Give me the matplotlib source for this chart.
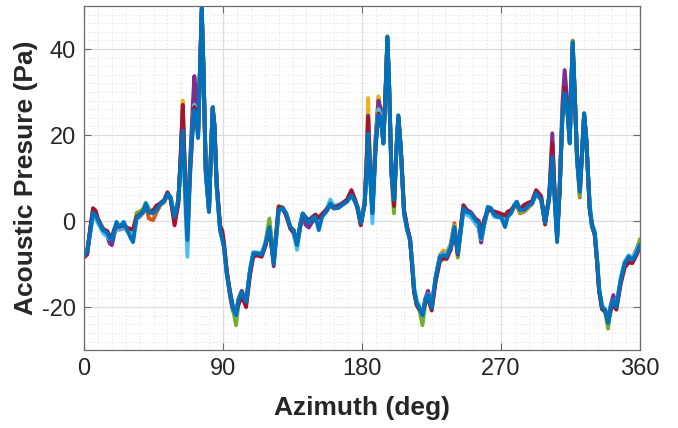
import matplotlib
matplotlib.use('Agg')
import matplotlib.pyplot as plt
from matplotlib.ticker import MultipleLocator

plt.rcParams['font.family'] = ['Liberation Sans', 'DejaVu Sans']
plt.rcParams['axes.unicode_minus'] = False

# ── Data (deg, Pa) ──
azimuth = [
    0.0, 2.0, 4.0, 5.8, 7.5, 9.0, 12.3, 15.0, 16.6, 18.0, 19.5, 21.0, 23.0, 25.7, 28.0, 30.0, 31.7,
    34.0, 36.0, 38.2, 40.0, 42.0, 44.7, 46.8, 49.6, 51.8, 54.0, 56.0, 58.6, 61.0, 62.5, 63.9, 65.4,
    66.9, 68.6, 70.4, 71.4, 73.0, 73.8, 75.1, 76.2, 77.3, 78.8, 80.9, 82.2, 83.3, 84.4, 85.9, 88.1,
    89.6, 90.6, 92.4, 94.5, 96.3, 98.4, 99.9, 102.1, 104.9, 107.5, 109.6, 112.2, 115.0, 117.3, 120.0,
    122.8, 124.5, 126.0, 128.6, 130.8, 133.6, 135.8, 137.9, 140.1, 141.6, 143.3, 145.5, 147.6, 149.8,
    152.0, 154.1, 156.7, 159.5, 161.7, 164.5, 167.0, 170.3, 173.1, 175.5, 177.0, 179.2, 181.7, 183.0,
    183.9, 185.3, 186.7, 188.8, 190.6, 192.1, 193.8, 195.4, 196.4, 197.5, 199.0, 200.7, 202.2, 203.5,
    205.1, 207.2, 209.3, 211.1, 212.6, 213.7, 215.4, 216.9, 219.1, 221.2, 222.7, 225.1, 227.7, 230.5,
    232.6, 234.8, 237.5, 239.8,
    242.0, 243.7, 245.6, 247.8, 250.6, 253.4, 255.6, 257.1, 259.2, 261.4, 263.5, 265.7, 267.9, 270.0,
    272.6, 274.3, 276.5, 278.6, 280.2, 282.3, 285.1, 288.0, 290.1, 292.7, 296.0, 298.5, 301.1, 303.2,
    304.8, 306.3, 308.0, 309.7, 311.2, 312.9, 314.5, 315.5, 316.4, 317.7, 319.2, 321.0, 322.5, 323.8,
    325.2, 327.4, 328.9, 330.7, 332.2, 333.5, 335.4, 337.5, 339.3, 341.0, 342.7, 344.7, 347.5, 350.1,
    352.7, 355.0, 357.6, 360.0,
]

p_blue = [
    -7.9, -7.3, -2.5, 1.9, 1.3, 0.2, -2.1, -2.8, -4.0, -4.4, -2.2, -0.2, -1.4, -0.2, -2.1, -3.8, -4.9,
    0.6, 1.4, 2.1, 4.0, 2.1, 1.8, 2.6, 4.0, 4.5, 6.3, 5.5, 1.0, 4.9, 13.0, 21.0, 8.0,
    -4.4, 12.6, 22.8, 25.8, 23.5, 19.3, 35.8, 49.5, 35.8, 11.2, 2.1, 16.5, 26.5, 21.9, 7.9, -2.1,
    -4.4, -6.0, -12.2, -16.8, -20.0, -21.9, -18.4, -16.5, -18.8, -11.4, -7.5, -7.5, -7.8, -5.5, -1.4,
    -9.8, -3.0, 2.6, 3.0, 1.8, -1.4, -2.1, -5.6, -0.5, 1.8, 1.0, -0.5, 0.6, 1.0,
    -2.1, 1.0, 2.1, 4.1, 3.0, 3.0, 3.7, 4.5, 6.0, 4.5, 3.3, -0.5, 4.1, 12.0,
    20.4, 10.0, 1.8, 18.0, 24.6, 24.2, 18.0, 32.0, 42.8, 32.0, 11.1, 4.9, 16.5, 24.6,
    16.5, 1.8, -2.1, -4.4, -10.6, -16.0, -19.1, -20.0, -21.9, -17.9, -17.2, -20.2, -13.0, -8.3,
    -7.9, -8.3, -6.0, -1.4,
    -7.5, -2.8, 3.0, 2.1, 1.8, 0.2, -0.5, -4.0, -0.5, 3.3, 3.0, 1.4, 1.0, 1.0,
    -1.4, 1.0, 1.8, 3.7, 4.5, 2.6, 2.6, 3.7, 4.1, 6.5, 4.9, -0.3, 5.6, 14.9,
    4.9, -4.9, 7.9, 24.2, 29.8, 25.8, 18.1, 32.0, 41.6, 29.8, 14.2, 6.8, 16.5, 25.1,
    18.8, 3.3, -1.4, -2.8, -9.1, -16.0, -20.0, -20.7, -23.7, -20.0, -18.4, -20.0, -13.7, -9.8,
    -8.3, -9.1, -7.5, -5.5,
]

p_red = [
    -8.3, -7.8, -1.5, 3.0, 2.4, 0.6, -2.0, -2.3, -3.4, -4.0, -2.0, -1.2, -1.3, -1.0, -1.6, -1.8, -1.9,
    1.0, 1.5, 2.2, 3.6, 2.0, 2.4, 3.6, 4.1, 4.8, 6.7, 5.2, -1.0, 4.0, 15.0, 27.0, 10.0,
    -3.2, 11.0, 22.0, 26.5, 24.5, 20.0, 35.5, 48.5, 35.0, 12.0, 3.0, 16.0, 26.0, 22.5, 8.8, -1.0,
    -2.4, -5.0, -11.5, -16.5, -20.0, -21.5, -19.5, -17.5, -20.0, -12.5, -8.2, -8.0, -8.3, -6.0, -2.0,
    -9.5, -2.5, 3.3, 3.0, 1.3, -1.8, -2.6, -5.2, -1.0, 1.2, 0.8, 0.2, 0.8, 1.5,
    0.8, 1.6, 2.6, 3.8, 3.2, 3.5, 4.0, 5.0, 7.2, 5.0, 3.0, -1.0, 4.0, 14.0,
    24.0, 11.0, 2.5, 17.0, 25.0, 24.0, 18.5, 31.5, 42.0, 31.5, 12.0, 3.5, 16.0, 24.2,
    17.0, 2.5, -1.5, -4.2, -11.2, -16.6, -19.6, -20.4, -21.5, -18.6, -18.0, -20.8, -14.0, -9.2,
    -8.5, -8.8, -6.6, -2.0,
    -7.8, -2.2, 3.7, 2.6, 2.0, 0.6, 0.0, -2.8, 0.5, 2.5, 2.6, 2.2, 2.0, 1.7,
    1.3, 2.2, 2.5, 3.6, 3.8, 2.8, 3.8, 4.3, 4.6, 7.2, 5.8, -0.8, 5.2, 18.0,
    6.0, -3.5, 7.0, 24.0, 31.0, 26.5, 19.0, 31.5, 40.5, 29.5, 15.5, 7.5, 16.0, 24.5,
    19.2, 2.7, -0.8, -3.4, -9.8, -16.2, -20.5, -21.0, -23.3, -20.8, -19.2, -20.6, -14.6, -10.8,
    -9.6, -9.8, -8.0, -6.0,
]

p_lightblue = [
    -7.0, -7.6, -3.0, 1.2, 0.6, -0.5, -2.8, -3.6, -4.2, -4.0, -2.9, -1.0, -1.9, -1.2, -2.4, -3.0, -3.2,
    0.8, 1.2, 2.0, 4.2, 2.6, 2.0, 2.8, 4.4, 4.9, 6.5, 5.7, 0.5, 4.2, 12.0, 20.0, 5.0,
    -8.3, 10.0, 21.5, 27.0, 24.0, 19.5, 35.0, 48.0, 34.5, 11.5, 2.5, 16.5, 25.5, 21.0, 7.5, -2.5,
    -4.2, -6.2, -12.5, -16.2, -19.5, -22.0, -18.5, -16.8, -19.0, -11.0, -7.2, -7.3, -7.5, -5.3, -1.8,
    -9.6, -3.5, 2.4, 2.8, 2.0, -1.6, -3.2, -6.7, -1.2, 1.4, 0.8, -0.3, 0.9, 1.5,
    -0.5, 1.4, 2.5, 5.0, 3.6, 3.8, 4.2, 5.0, 6.5, 4.8, 3.2, -0.6, 3.8, 12.5,
    23.0, 10.0, -0.5, 17.5, 26.0, 24.5, 18.0, 31.5, 42.0, 31.5, 11.5, 4.5, 16.2, 24.2,
    16.5, 1.6, -2.3, -4.0, -10.0, -15.2, -18.5, -19.6, -22.0, -17.8, -17.0, -19.8, -12.8, -8.0,
    -7.6, -7.8, -5.6, -1.6,
    -7.2, -3.2, 2.4, 1.5, 0.8, -0.6, -1.4, -4.2, -0.8, 2.8, 2.6, 1.0, 0.8, 0.8,
    -0.4, 1.3, 2.0, 3.8, 4.4, 2.6, 2.8, 3.6, 4.4, 6.2, 5.0, -0.5, 5.4, 14.5,
    4.0, -3.8, 8.0, 24.5, 30.0, 26.0, 18.0, 31.0, 40.5, 29.0, 14.5, 7.0, 16.2, 24.8,
    18.6, 4.0, -0.6, -2.2, -8.6, -15.4, -19.6, -20.5, -23.5, -20.0, -18.4, -19.6, -13.2, -9.4,
    -8.0, -8.4, -7.0, -5.5,
]

p_green = [
    -8.5, -7.6, -2.2, 2.0, 1.6, 0.2, -1.6, -2.6, -3.8, -4.2, -2.0, -0.8, -1.2, -0.8, -1.7, -2.6, -2.9,
    1.9, 2.2, 2.8, 4.3, 2.8, 2.3, 3.2, 4.0, 4.6, 6.2, 5.0, 0.6, 4.8, 13.5, 24.0, 8.0,
    -4.5, 12.5, 23.0, 27.0, 24.0, 19.5, 36.5, 50.0, 36.5, 11.0, 2.2, 16.8, 26.5, 22.0, 8.0, -2.0,
    -4.3, -6.0, -12.0, -16.8, -20.3, -24.2, -19.5, -17.0, -19.2, -11.6, -7.8, -7.8, -7.7, -5.2, 0.6,
    -8.8, -2.5, 3.5, 3.2, 1.8, -1.4, -2.3, -5.4, -0.6, 1.6, 0.9, 0.0, 1.0, 1.3,
    0.5, 1.6, 2.5, 4.0, 3.2, 3.2, 3.8, 4.6, 6.2, 4.6, 3.4, -0.3, 4.2, 13.0,
    22.0, 10.5, 2.0, 18.5, 26.0, 24.5, 18.2, 32.5, 43.0, 32.5, 10.5, 1.8, 16.0, 24.5,
    16.5, 1.9, -2.0, -4.5, -10.8, -16.2, -19.3, -20.2, -24.2, -18.6, -17.6, -20.0, -13.4, -9.0,
    -9.0, -8.5, -6.0, -1.2,
    -8.5, -3.0, 2.8, 1.8, 1.5, 0.0, -0.8, -3.6, 0.0, 2.8, 2.6, 1.6, 1.2, 1.2,
    0.0, 1.6, 2.6, 3.4, 3.8, 2.0, 2.6, 3.6, 4.2, 6.6, 5.1, -0.2, 5.5, 15.5,
    5.0, -3.8, 8.0, 24.5, 30.5, 26.0, 18.5, 32.5, 42.0, 30.5, 14.8, 5.8, 16.0, 25.0,
    18.8, 3.2, -1.2, -2.9, -9.2, -16.2, -20.2, -21.4, -25.0, -20.4, -18.6, -19.8, -14.0, -10.2,
    -9.0, -8.8, -7.2, -4.2,
]

p_purple = [
    -7.6, -7.0, -2.0, 2.4, 1.5, -0.2, -2.5, -3.4, -5.2, -5.6, -3.2, -1.6, -2.0, -1.5, -2.3, -2.8, -3.0,
    0.6, 1.0, 1.9, 3.8, 2.4, 1.8, 3.0, 4.2, 4.6, 6.4, 5.4, 0.0, 4.5, 14.0, 26.0, 10.0,
    -4.0, 13.5, 27.0, 33.7, 28.0, 21.0, 35.5, 48.5, 35.5, 13.0, 3.5, 16.2, 26.0, 22.5, 8.5, -1.5,
    -3.5, -5.8, -11.8, -17.5, -20.8, -21.8, -18.2, -16.2, -18.5, -11.6, -7.8, -7.6, -7.9, -5.6, -1.6,
    -10.5, -3.5, 2.5, 2.8, 1.5, -1.6, -2.4, -5.5, -0.8, 1.5, -0.8, -1.5, -0.3, 0.5,
    0.2, 1.5, 2.2, 3.7, 3.0, 3.4, 3.9, 4.8, 6.8, 4.6, 3.0, -0.8, 4.0, 13.5,
    24.5, 11.0, 2.3, 19.5, 28.0, 26.0, 19.0, 31.5, 42.0, 31.5, 12.2, 4.0, 16.2, 24.0,
    17.0, 2.4, -1.8, -4.3, -11.0, -16.4, -19.4, -20.5, -21.8, -17.8, -16.2, -19.6, -13.2, -8.0,
    -7.5, -7.8, -5.7, -1.5,
    -7.6, -2.6, 3.0, 2.0, 1.6, -0.4, -1.6, -5.0, -0.6, 2.6, 2.4, 1.3, 1.1, 1.0,
    -0.2, 1.5, 2.0, 3.5, 3.6, 2.2, 3.0, 3.8, 4.4, 6.8, 5.2, -0.4, 5.2, 20.4,
    6.0, -3.6, 8.5, 27.0, 35.1, 28.0, 19.0, 31.5, 40.5, 29.5, 15.0, 7.2, 16.4, 24.6,
    19.0, 3.0, -1.0, -3.2, -9.4, -16.0, -20.3, -20.9, -23.4, -19.6, -17.2, -19.4, -13.8, -9.8,
    -8.4, -8.8, -7.4, -5.6,
]

p_yellow = [
    -7.8, -7.4, -2.3, 2.2, 1.5, 0.4, -1.8, -2.5, -3.6, -4.2, -2.1, -1.0, -1.3, -1.0, -1.8, -2.5, -2.8,
    1.2, 1.6, 2.4, 3.9, 2.2, 1.6, 2.7, 3.8, 4.4, 6.2, 5.3, 0.8, 4.7, 14.5, 28.0, 9.0,
    -4.2, 12.0, 23.5, 28.0, 24.5, 19.8, 35.5, 49.0, 35.5, 11.8, 2.6, 16.4, 26.3, 22.0, 8.2, -1.8,
    -4.0, -6.0, -12.2, -16.8, -20.0, -22.3, -18.8, -16.8, -19.0, -11.5, -7.6, -7.6, -7.7, -5.4, -1.0,
    -9.0, -3.0, 2.8, 2.9, 1.7, -1.5, -2.2, -5.3, -0.7, 1.6, 0.9, -0.2, 0.7, 1.2,
    0.0, 1.4, 2.4, 3.8, 3.1, 3.3, 3.8, 4.6, 6.4, 4.7, 3.3, -0.4, 4.5, 16.0,
    28.6, 13.0, 2.0, 19.0, 29.0, 25.5, 18.6, 32.0, 42.5, 32.0, 11.8, 4.2, 16.5, 24.4,
    16.8, 2.0, -2.0, -4.4, -10.7, -16.1, -19.2, -20.2, -22.4, -18.2, -17.4, -20.1, -13.1, -7.8,
    -6.8, -7.2, -5.3, -1.0,
    -7.4, -2.7, 2.9, 2.0, 1.6, 0.0, -0.8, -3.8, -0.2, 2.8, 2.6, 1.5, 1.2, 1.1,
    -0.1, 1.4, 2.1, 3.5, 3.7, 2.1, 2.4, 3.4, 4.2, 6.5, 5.0, -0.3, 5.4, 16.0,
    5.5, -3.8, 8.0, 24.8, 30.5, 26.2, 18.5, 31.8, 41.0, 29.8, 14.6, 6.5, 16.2, 24.8,
    18.9, 3.1, -1.1, -3.0, -9.2, -16.1, -20.1, -21.1, -24.0, -20.2, -18.6, -19.9, -13.8, -9.8,
    -8.4, -8.6, -7.0, -5.0,
]

p_orange = [
    -7.9, -7.2, -2.4, 2.0, 1.4, 0.3, -2.2, -2.9, -4.0, -4.3, -2.3, -0.9, -1.4, -0.9, -2.0, -2.6, -3.0,
    1.0, 1.3, 2.0, 3.6, 0.6, 0.2, 2.0, 3.8, 4.4, 6.1, 5.4, 0.7, 4.8, 13.5, 24.5, 9.0,
    -4.6, 12.3, 23.0, 27.0, 24.0, 19.6, 35.0, 48.8, 35.0, 11.4, 2.4, 16.4, 26.2, 22.0, 8.0, -2.0,
    -4.2, -6.0, -12.0, -16.9, -20.1, -22.2, -18.6, -16.6, -18.9, -11.5, -7.6, -7.6, -7.8, -5.5, -1.2,
    -9.4, -3.0, 2.7, 3.0, 1.8, -1.4, -2.2, -5.5, -0.6, 1.7, 1.0, -0.3, 0.7, 1.1,
    -0.3, 1.2, 2.2, 3.8, 2.9, 3.1, 3.8, 4.6, 6.2, 4.5, 3.4, -0.4, 4.4, 14.0,
    22.5, 10.5, 2.0, 18.2, 26.0, 24.6, 18.2, 31.8, 42.3, 31.8, 11.5, 4.6, 16.4, 24.5,
    16.6, 1.9, -2.1, -4.4, -10.6, -16.0, -19.1, -20.1, -22.2, -18.0, -17.3, -20.2, -13.0, -8.2,
    -7.6, -7.9, -5.2, -0.5,
    -7.3, -2.8, 2.7, 2.0, 1.4, 0.1, -0.6, -3.8, -0.2, 2.9, 2.7, 1.5, 1.1, 1.0,
    -0.4, 1.2, 2.0, 3.4, 3.8, 1.8, 2.2, 3.2, 4.0, 6.4, 5.0, -0.3, 5.5, 15.5,
    5.0, -4.0, 7.8, 24.3, 30.2, 26.0, 18.3, 31.8, 41.0, 29.6, 14.8, 5.5, 16.0, 24.8,
    18.8, 3.2, -1.2, -2.9, -9.1, -16.0, -20.0, -21.0, -23.8, -20.1, -18.5, -20.0, -13.6, -9.6,
    -8.0, -8.7, -6.6, -4.6,
]

# MATLAB default colour order; the blue trace is drawn last, on top
series = [
    (p_orange, '#D95319'),
    (p_yellow, '#EDB120'),
    (p_purple, '#7E2F8E'),
    (p_green, '#77AC30'),
    (p_lightblue, '#4DBEEE'),
    (p_red, '#A2142F'),
    (p_blue, '#0072BD'),
]

AXIS_GRAY = '#6b6b6b'
TEXT_DARK = '#262626'

fig = plt.figure(figsize=(6.78, 4.28), dpi=100)
ax = fig.add_axes([0.124, 0.182, 0.820, 0.804])

for vals, col in series:
    ax.plot(azimuth, vals, color=col, linewidth=2.8, solid_joinstyle='round', solid_capstyle='round')

ax.set_xlim(0, 360)
ax.set_ylim(-30, 50)
ax.set_xticks([0, 90, 180, 270, 360])
ax.set_yticks([-20, 0, 20, 40])
ax.xaxis.set_minor_locator(MultipleLocator(9))
ax.yaxis.set_minor_locator(MultipleLocator(2))

ax.grid(which='major', color='#dcdcdc', linewidth=0.9, linestyle='-')
ax.grid(which='minor', color='#dedede', linewidth=0.7, linestyle=(0, (1, 2.5)))
ax.set_axisbelow(True)

ax.tick_params(which='major', direction='in', length=5, width=0.8, color=AXIS_GRAY,
               top=True, right=True, labelsize=17, labelcolor=TEXT_DARK, pad=6)
ax.tick_params(which='minor', length=0)
for sp in ax.spines.values():
    sp.set_color(AXIS_GRAY)
    sp.set_linewidth(0.9)

ax.set_xlabel('Azimuth (deg)', fontsize=19, fontweight='bold', color=TEXT_DARK, labelpad=11)
ax.set_ylabel('Acoustic Presure (Pa)', fontsize=19, fontweight='bold', color=TEXT_DARK, labelpad=3)

fig.savefig('out.png', dpi=100, facecolor='white')
